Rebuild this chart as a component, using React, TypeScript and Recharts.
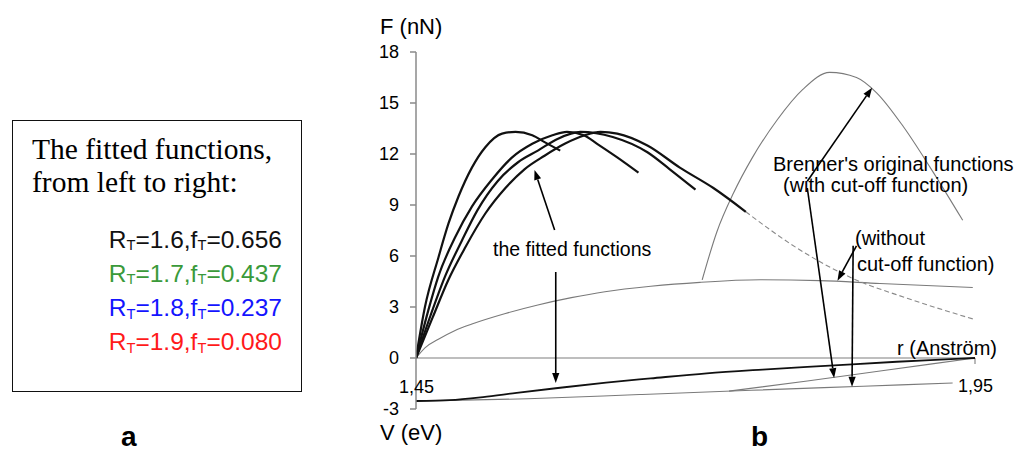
import { ComposedChart, Line, XAxis, YAxis, ReferenceLine } from 'recharts'

const SANS = '"Liberation Sans", Arial, sans-serif'
const SERIF = '"Liberation Serif", "Times New Roman", serif'

// fitted force curves F(r), left to right
const fit1R = [1.45, 1.458, 1.47, 1.479, 1.488, 1.5, 1.512, 1.527, 1.539, 1.554, 1.565, 1.579]
const fit1F = [0, 3.0, 5.9, 7.9, 9.5, 11.2, 12.4, 13.2, 13.3, 13.1, 12.7, 12.2]
const fit2R = [1.45, 1.461, 1.47, 1.485, 1.5, 1.518, 1.536, 1.554, 1.572, 1.585, 1.6, 1.612, 1.63, 1.649]
const fit2F = [0, 2.8, 4.8, 7.1, 8.9, 10.5, 11.8, 12.6, 13.1, 13.3, 13.1, 12.6, 11.8, 10.9]
const fit3R = [1.45, 1.463, 1.476, 1.491, 1.505, 1.523, 1.541, 1.559, 1.577, 1.597, 1.626, 1.657, 1.677, 1.7]
const fit3F = [0, 2.5, 4.8, 6.9, 8.7, 10.4, 11.5, 12.2, 12.9, 13.3, 13.0, 12.1, 11.1, 9.9]
const fit4R = [1.45, 1.465, 1.479, 1.494, 1.512, 1.53, 1.547, 1.565, 1.583, 1.601, 1.615, 1.63, 1.657, 1.686, 1.716, 1.745]
const fit4F = [0, 2.4, 4.6, 6.5, 8.5, 10.0, 11.1, 11.9, 12.6, 13.1, 13.3, 13.2, 12.5, 11.2, 10.0, 8.6]
const tailR = [1.745, 1.79, 1.84, 1.89, 1.948]
const tailF = [8.6, 6.5, 4.7, 3.5, 2.3]

// Brenner's original force, with and without cut-off
const cutR = [1.706, 1.719, 1.734, 1.751, 1.773, 1.796, 1.82, 1.844, 1.862, 1.886, 1.91, 1.939]
const cutF = [4.6, 7.4, 9.7, 11.8, 14.0, 15.8, 16.8, 16.5, 15.6, 13.6, 11.2, 8.1]
const noCutR = [1.45, 1.458, 1.47, 1.485, 1.5, 1.53, 1.559, 1.589, 1.619, 1.66, 1.704, 1.758, 1.811, 1.865, 1.948]
const noCutF = [0, 0.6, 1.1, 1.62, 2.0, 2.62, 3.12, 3.55, 3.9, 4.22, 4.45, 4.6, 4.55, 4.38, 4.15]

// energy curves V(r), drawn on the same frame below zero
const vFitR = [1.45, 1.48, 1.51, 1.54, 1.575, 1.62, 1.66, 1.71, 1.76, 1.82, 1.88, 1.91, 1.95]
const vFitF = [-2.53, -2.48, -2.3, -2.05, -1.78, -1.45, -1.2, -0.9, -0.68, -0.45, -0.22, -0.12, 0]
const vNoCutR = [1.45, 1.55, 1.65, 1.75, 1.85, 1.93]
const vNoCutF = [-2.53, -2.4, -2.15, -1.9, -1.66, -1.47]
const vCutR = [1.73, 1.8, 1.87, 1.95]
const vCutF = [-1.95, -1.35, -0.72, 0]

const yTicks = [-3, 0, 3, 6, 9, 12, 15, 18]

// arrows: [fromR, fromF, toR, toF]
const arrows = [
  [1.574, 7.53, 1.556, 11.06],
  [1.575, 5.06, 1.575, -1.47],
  [1.8, 10.4, 1.858, 15.9],
  [1.8, 10.0, 1.824, -1.18],
  [1.844, 6.6, 1.827, 4.55],
  [1.841, 6.6, 1.84, -1.69],
]

const legendRows = [
  { r: '1.6', f: '0.656', color: '#111111' },
  { r: '1.7', f: '0.437', color: '#3a9a3a' },
  { r: '1.8', f: '0.237', color: '#1414ff' },
  { r: '1.9', f: '0.080', color: '#ff1a1a' },
]

const pts = (rs: number[], fs: number[]) => rs.map((r, i) => ({ r, f: fs[i] }))

function Arrow(props: any) {
  const { x1, y1, x2, y2 } = props
  const a = Math.atan2(y2 - y1, x2 - x1)
  const len = 10
  const w = 3.6
  const bx = x2 - len * Math.cos(a)
  const by = y2 - len * Math.sin(a)
  const p1 = `${bx - w * Math.sin(a)},${by + w * Math.cos(a)}`
  const p2 = `${bx + w * Math.sin(a)},${by - w * Math.cos(a)}`
  return (
    <g>
      <line x1={x1} y1={y1} x2={bx} y2={by} stroke="#000" strokeWidth={1.6} />
      <polygon points={`${x2},${y2} ${p1} ${p2}`} fill="#000" />
    </g>
  )
}

function Txt({ x, y, size, children, bold, anchor }: any) {
  return (
    <div
      style={{
        position: 'absolute',
        left: x,
        top: y,
        fontSize: size,
        lineHeight: 1,
        fontWeight: bold ? 700 : 400,
        whiteSpace: 'nowrap',
        transform: anchor === 'middle' ? 'translateX(-50%)' : undefined,
      }}
    >
      {children}
    </div>
  )
}

const thick = { stroke: '#111', strokeWidth: 2.2 }
const thin = { stroke: '#7a7a7a', strokeWidth: 1.1 }

export default function App() {
  return (
    <div style={{ position: 'absolute', left: 0, top: 0, width: 1016, height: 454, background: '#fff', overflow: 'hidden', fontFamily: SANS, color: '#000' }}>
      {/* panel a */}
      <div style={{ position: 'absolute', left: 12, top: 120, width: 288, height: 270, border: '1.6px solid #111' }} />
      <div style={{ position: 'absolute', left: 32, top: 133, fontFamily: SERIF, fontSize: 29.5, lineHeight: '32.5px' }}>
        The fitted functions,
        <br />
        from left to right:
      </div>
      {legendRows.map((row, i) => (
        <div
          key={row.r}
          style={{ position: 'absolute', left: 0, width: 282, top: 227.5 + i * 34.3, textAlign: 'right', fontSize: 24.5, lineHeight: 1, color: row.color, whiteSpace: 'nowrap' }}
        >
          R<span style={{ fontSize: '0.6em', position: 'relative', top: '0.18em' }}>T</span>={row.r},f
          <span style={{ fontSize: '0.6em', position: 'relative', top: '0.18em' }}>T</span>={row.f}
        </div>
      ))}
      <Txt x={121} y={423} size={28} bold>a</Txt>

      {/* panel b */}
      <div style={{ position: 'absolute', left: 0, top: 0 }}>
        <ComposedChart width={1016} height={454} margin={{ top: 52, right: 41, bottom: 45, left: 356 }}>
          <XAxis type="number" dataKey="r" domain={[1.45, 1.95]} allowDataOverflow hide />
          <YAxis
            type="number"
            width={60}
            domain={[-3, 18]}
            ticks={yTicks}
            interval={0}
            allowDataOverflow
            tickSize={6}
            tickMargin={11}
            axisLine={{ stroke: '#8a8a8a', strokeWidth: 1.5 }}
            tickLine={{ stroke: '#8a8a8a', strokeWidth: 1.5 }}
            tick={{ fontSize: 18, fill: '#000', fontFamily: SANS }}
          />
          <ReferenceLine y={0} stroke="#a8a8a8" strokeWidth={1.6} />
          <ReferenceLine segment={[{ x: 1.95, y: 0 }, { x: 1.95, y: -0.35 }]} stroke="#8a8a8a" strokeWidth={1.2} />

          <Line data={pts(noCutR, noCutF)} dataKey="f" type="monotone" dot={false} isAnimationActive={false} {...thin} />
          <Line data={pts(cutR, cutF)} dataKey="f" type="monotone" dot={false} isAnimationActive={false} {...thin} />
          <Line data={pts(tailR, tailF)} dataKey="f" type="monotone" dot={false} isAnimationActive={false} stroke="#8a8a8a" strokeWidth={1.1} strokeDasharray="5 3" />
          <Line data={pts(vNoCutR, vNoCutF)} dataKey="f" type="monotone" dot={false} isAnimationActive={false} {...thin} />
          <Line data={pts(vCutR, vCutF)} dataKey="f" type="monotone" dot={false} isAnimationActive={false} {...thin} />
          <Line data={pts(vFitR, vFitF)} dataKey="f" type="monotone" dot={false} isAnimationActive={false} stroke="#111" strokeWidth={1.8} />

          <Line data={pts(fit1R, fit1F)} dataKey="f" type="monotone" dot={false} isAnimationActive={false} {...thick} />
          <Line data={pts(fit2R, fit2F)} dataKey="f" type="monotone" dot={false} isAnimationActive={false} {...thick} />
          <Line data={pts(fit3R, fit3F)} dataKey="f" type="monotone" dot={false} isAnimationActive={false} {...thick} />
          <Line data={pts(fit4R, fit4F)} dataKey="f" type="monotone" dot={false} isAnimationActive={false} {...thick} />

          {arrows.map(([r1, f1, r2, f2], i) => (
            <ReferenceLine key={i} segment={[{ x: r1, y: f1 }, { x: r2, y: f2 }]} shape={Arrow} />
          ))}
        </ComposedChart>
      </div>

      <Txt x={380} y={16} size={22}>F (nN)</Txt>
      <Txt x={380} y={422} size={22}>V (eV)</Txt>
      <Txt x={897} y={338} size={20}>r (Anström)</Txt>
      <Txt x={493} y={240} size={19.5}>the fitted functions</Txt>
      <Txt x={773} y={154} size={20}>Brenner's original functions</Txt>
      <Txt x={783} y={175} size={20}>(with cut-off function)</Txt>
      <Txt x={855} y={228} size={20}>(without</Txt>
      <Txt x={857} y={254} size={20}>cut-off function)</Txt>
      <Txt x={416.5} y={378} size={18} anchor="middle">1,45</Txt>
      <Txt x={975.5} y={377} size={18} anchor="middle">1,95</Txt>
      <Txt x={751} y={423} size={28} bold>b</Txt>
    </div>
  )
}
